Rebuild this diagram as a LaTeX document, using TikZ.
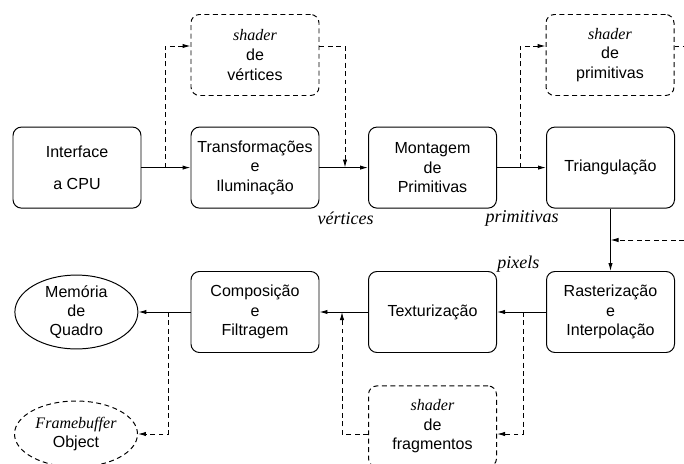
\documentclass[tikz,border=0pt]{standalone}
\usepackage{fontspec}
\setmainfont{Liberation Serif}
\setsansfont{Liberation Sans}
\usetikzlibrary{arrows.meta,shapes.geometric,positioning,calc}
\tikzset{stage/.style={draw,rounded corners=6pt,line width=0.7pt,minimum width=3.2cm,minimum height=2.025cm,align=center,inner sep=0pt,font=\sffamily\fontsize{11.4}{14}\selectfont},
 shaderbox/.style={stage,dash pattern=on 3.5pt off 2.5pt},
 store/.style={ellipse,draw,line width=0.7pt,minimum width=3.075cm,minimum height=1.65cm,align=center,inner sep=0pt,font=\sffamily\fontsize{11.4}{13.3}\selectfont},
 flow/.style={-{Latex[length=2mm,width=1.1mm]},line width=0.7pt},
 dflow/.style={flow,dash pattern=on 3.5pt off 2.5pt},
 tag/.style={font=\rmfamily\itshape\fontsize{12.8}{15}\selectfont,inner sep=0pt}}
\newcommand{\shd}{{\rmfamily\itshape shader}}

\begin{document}
\begin{tikzpicture}
\useasboundingbox (0,0) rectangle (17.1,-11.575);
% geometry stage
\node[stage] (iface) at (1.925,-4.19) {Interface\\[9pt]a CPU};
\node[stage] (transf) at (6.375,-4.19) {Transformações\\e\\Iluminação};
\node[stage] (mont) at (10.8125,-4.19) {Montagem\\de\\Primitivas};
\node[stage] (tri) at (15.2625,-4.19) {Triangulação};
\node[shaderbox] (shv) at (6.375,-1.375) {\shd\\de\\vértices};
\node[shaderbox] (shp) at (15.25,-1.375) {\shd\\de\\primitivas};
% fragment stage
\node[stage] (rast) at (15.2625,-7.8) {Rasterização\\e\\Interpolação};
\node[stage] (tex) at (10.8125,-7.8) {Texturização};
\node[stage] (comp) at (6.375,-7.8) {Composição\\e\\Filtragem};
\node[shaderbox] (shf) at (10.8125,-10.66) {\shd\\de\\fragmentos};
\node[store] (mem) at (1.91,-7.8) {Memória\\de\\Quadro};
\node[store,dash pattern=on 3.5pt off 2.5pt] (fbo) at (1.9,-10.85) {{\rmfamily\itshape Framebuffer}\\Object};
% labels
\node[tag] (lvert) at (8.64,-5.45) {vértices};
\node[tag] (lprim) at (13.05,-5.45) {primitivas};
\node[tag] (lpix) at (12.96,-6.6) {pixels};
% branch points
\coordinate (b1) at (4.125,-4.19);
\coordinate (b2) at (8.625,-4.19);
\coordinate (b3) at (13.0,-4.19);
\coordinate (e1) at (17.1,-1.15);
\coordinate (e2) at (17.1,-6.0);
\coordinate (b5) at (13.075,-7.8);
\coordinate (b6) at (8.55,-7.8);
\coordinate (b7) at (4.2,-7.8);
\draw[flow] (iface) -- (transf);
\draw[flow] (transf) -- (mont);
\draw[flow] (mont) -- (tri);
\draw[dflow] (b1) |- ([yshift=0.225cm]shv.west);
\draw[dflow] ([yshift=0.225cm]shv.east) -| (b2);
\draw[dflow] (b3) |- ([yshift=0.225cm]shp.west);
\draw[dash pattern=on 3.5pt off 2.5pt,line width=0.7pt] ([yshift=0.225cm]shp.east) -- (e1);
\draw[flow] (tri) -- (rast);
\draw[dflow] (e2) -- (tri.south |- e2);
\draw[flow] (rast) -- (tex);
\draw[dflow] (b5) |- ([yshift=-0.19cm]shf.east);
\draw[flow] (tex) -- (comp);
\draw[dflow] ([yshift=-0.19cm]shf.west) -| (b6);
\draw[flow] (comp) -- (mem);
\draw[dflow] (b7) |- (fbo.east);
\end{tikzpicture}
\end{document}
